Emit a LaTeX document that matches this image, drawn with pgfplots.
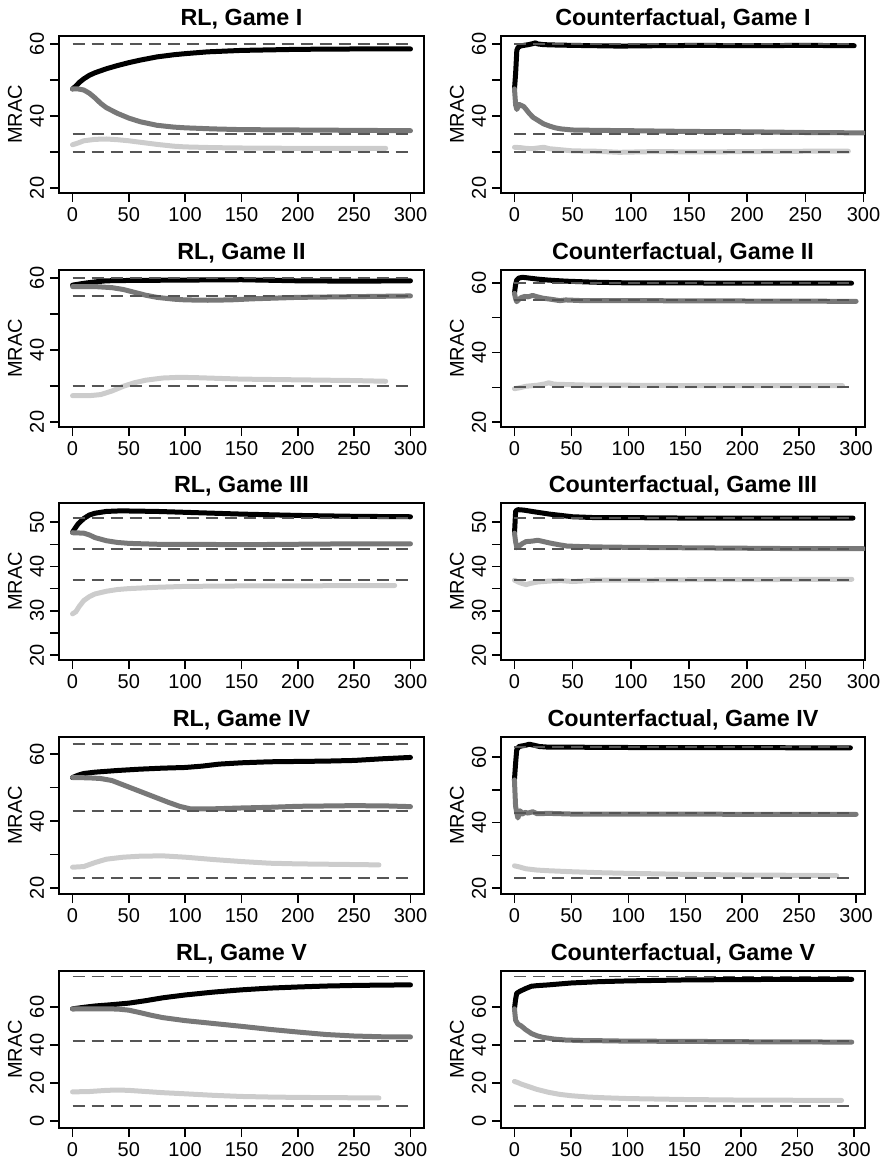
\documentclass[border=0pt]{standalone}
\usepackage{fontspec}
\setmainfont{Liberation Sans}
\usepackage{pgfplots}
\pgfplotsset{compat=1.18}
\definecolor{dgray}{HTML}{787878}
\definecolor{lgray}{HTML}{CCCCCC}
\definecolor{refgray}{HTML}{555555}
\pgfplotsset{
  rbase/.style={
    scale only axis, height=94.2pt,
    axis line style={line width=0.9pt},
    tick align=outside, xtick pos=left, ytick pos=left,
    major tick length=5.4pt,
    tick style={black, line width=0.9pt},
    xtick={0,50,...,300}, xticklabels={0,50,100,150,200,250,300},
    tick label style={font=\fontsize{12}{14}\selectfont},
    yticklabel style={rotate=90, anchor=south},
    ylabel={MRAC},
    every axis y label/.style={at={(axis description cs:0,0.5)}, xshift=-26.4pt,
      rotate=90, anchor=center, font=\fontsize{12}{14}\selectfont},
    every axis title shift=0pt,
    title style={at={(axis description cs:0.5,1)}, anchor=base, yshift=6.6pt,
      font=\bfseries\fontsize{14}{16}\selectfont},
  },
  lcol/.style={rbase, width=219pt, xmin=-12, xmax=312, at={(35.4pt,#1)}, anchor=north west},
  rcol/.style={rbase, width=218.4pt, at={(300.6pt,#1)}, anchor=north west},
  ya/.style={ymin=18.6, ymax=62.2, ytick={20,30,...,60}, yticklabels={20,{},40,{},60}},
  s1/.style={black, line width=3pt, line join=round, line cap=round},
  s2/.style={dgray, line width=3pt, line join=round, line cap=round},
  s3/.style={lgray, line width=3pt, line join=round, line cap=round},
  ref/.style={refgray, line width=1.1pt, dash pattern=on 7.2pt off 4.2pt},
}

\begin{document}
\begin{tikzpicture}
\useasboundingbox (0,0) rectangle (529.2pt,-697.2pt);

% ---- row 1 ----
\begin{axis}[lcol=-21.6pt, ya, title={RL, Game I}]
\addplot[s1] coordinates {(0,47.5)(3,48.3)(6,49.3)(10,50.3)(15,51.3)(20,52.0)(30,53.1)(40,54.0)(50,54.8)(60,55.5)(75,56.4)(90,57.0)(100,57.3)(120,57.8)(150,58.2)(200,58.5)(250,58.6)(300,58.6)};
\addplot[s2] coordinates {(0,47.5)(5,47.5)(10,47.2)(15,46.3)(20,45.0)(25,43.5)(30,42.3)(40,40.7)(50,39.4)(60,38.4)(75,37.4)(90,36.9)(100,36.7)(125,36.4)(150,36.2)(200,36.1)(250,36.0)(300,35.9)};
\addplot[s3] coordinates {(0,32.0)(5,32.5)(10,33.1)(20,33.5)(30,33.6)(40,33.4)(50,33.1)(60,32.7)(75,32.1)(90,31.6)(100,31.4)(125,31.2)(150,31.1)(200,31.0)(250,31.0)(278,31.0)};
\addplot[ref] coordinates {(0,60)(300,60)};
\addplot[ref] coordinates {(0,35)(300,35)};
\addplot[ref] coordinates {(0,30)(300,30)};
\end{axis}

\begin{axis}[rcol=-21.6pt, xmin=-11.6, xmax=301.3, ya, title={Counterfactual, Game I}]
\addplot[s1] coordinates {(0,47.5)(1,52)(2,58.2)(3,59.0)(5,59.4)(8,59.6)(12,59.8)(16,60.1)(18,60.3)(20,60.0)(25,59.8)(35,59.7)(50,59.6)(70,59.5)(90,59.4)(120,59.5)(160,59.6)(200,59.5)(250,59.6)(292,59.5)};
\addplot[s2] coordinates {(0,47.5)(1,43)(2,41.8)(3,42.5)(4,43.2)(6,42.9)(8,42.6)(10,41.8)(13,40.6)(16,39.6)(20,38.8)(25,37.8)(30,37.2)(35,36.7)(40,36.4)(50,36.1)(70,36.0)(100,35.9)(150,35.7)(200,35.6)(250,35.4)(300,35.3)};
\addplot[s3] coordinates {(0,31.3)(5,31.2)(10,31.0)(15,30.9)(20,31.1)(25,31.3)(30,30.9)(40,30.6)(50,30.3)(70,30.2)(90,29.9)(120,30.1)(160,30.0)(200,30.1)(250,30.2)(287,30.2)};
\addplot[ref] coordinates {(0,60)(291,60)};
\addplot[ref] coordinates {(0,35)(291,35)};
\addplot[ref] coordinates {(0,30)(291,30)};
\end{axis}

% ---- row 2 ----
\begin{axis}[lcol=-162pt, ya, title={RL, Game II}]
\addplot[s1] coordinates {(0,58.0)(10,58.5)(20,58.9)(30,59.2)(50,59.3)(100,59.4)(150,59.5)(200,59.2)(250,59.1)(300,59.2)};
\addplot[s2] coordinates {(0,57.6)(20,57.6)(35,57.3)(45,56.8)(55,56.0)(65,55.2)(75,54.6)(90,54.1)(100,53.9)(120,53.8)(140,53.9)(160,54.2)(200,54.6)(250,54.8)(300,55.0)};
\addplot[s3] coordinates {(0,27.3)(15,27.3)(25,27.6)(35,28.6)(45,29.9)(55,30.9)(65,31.6)(80,32.2)(95,32.4)(110,32.3)(130,32.1)(150,31.9)(200,31.7)(250,31.5)(278,31.3)};
\addplot[ref] coordinates {(0,60)(300,60)};
\addplot[ref] coordinates {(0,55)(300,55)};
\addplot[ref] coordinates {(0,30)(300,30)};
\end{axis}

\begin{axis}[rcol=-162pt, xmin=-11.8, xmax=307.8, ymin=18.6, ymax=63.7, ytick={20,30,...,60}, yticklabels={20,{},40,{},60}, title={Counterfactual, Game II}]
\addplot[s1] coordinates {(0,57)(1,59.5)(2,60.8)(4,61.4)(7,61.6)(10,61.5)(15,61.3)(20,61.1)(30,60.8)(45,60.5)(70,60.2)(100,60.0)(150,60.0)(200,59.9)(250,59.9)(296,59.9)};
\addplot[s2] coordinates {(0,57)(1,55.5)(2,54.6)(4,55.3)(6,55.8)(9,56.1)(12,56.0)(16,56.4)(20,56.0)(25,55.6)(32,55.3)(40,54.9)(45,55.1)(60,54.9)(100,54.9)(200,54.8)(300,54.7)};
\addplot[s3] coordinates {(0,29.6)(5,29.9)(10,30.3)(20,30.6)(27,31.0)(30,31.3)(35,30.9)(45,30.8)(70,30.6)(100,30.6)(150,30.5)(200,30.5)(250,30.5)(288,30.5)};
\addplot[ref] coordinates {(0,60)(296,60)};
\addplot[ref] coordinates {(0,55)(296,55)};
\addplot[ref] coordinates {(0,30)(296,30)};
\end{axis}

% ---- row 3 ----
\begin{axis}[lcol=-301.8pt, ymin=18.9, ymax=54.3, ytick={20,25,...,50}, yticklabels={20,{},30,{},40,{},50}, title={RL, Game III}]
\addplot[s1] coordinates {(0,47.7)(2,48.5)(5,49.6)(10,50.8)(15,51.6)(20,52.0)(30,52.4)(40,52.5)(50,52.5)(75,52.4)(100,52.2)(150,51.8)(200,51.5)(250,51.3)(300,51.2)};
\addplot[s2] coordinates {(0,47.6)(10,47.5)(15,47.1)(20,46.5)(30,45.8)(40,45.4)(50,45.2)(75,45.0)(100,45.0)(150,44.9)(200,45.0)(250,45.1)(300,45.1)};
\addplot[s3] coordinates {(0,29.3)(3,29.8)(6,31.0)(10,32.3)(15,33.2)(20,33.8)(30,34.4)(40,34.8)(50,35.0)(75,35.3)(100,35.5)(150,35.6)(200,35.6)(250,35.7)(286,35.7)};
\addplot[ref] coordinates {(0,51)(300,51)};
\addplot[ref] coordinates {(0,44)(300,44)};
\addplot[ref] coordinates {(0,37)(300,37)};
\end{axis}

\begin{axis}[rcol=-301.8pt, xmin=-11.6, xmax=301.3, ymin=18.9, ymax=54.3, ytick={20,25,...,50}, yticklabels={20,{},30,{},40,{},50}, title={Counterfactual, Game III}]
\addplot[s1] coordinates {(0,47.5)(1,52.5)(3,52.8)(8,52.7)(15,52.4)(20,52.2)(30,51.8)(40,51.5)(50,51.2)(70,51.0)(100,51.0)(150,50.9)(200,50.9)(250,50.9)(291,50.9)};
\addplot[s2] coordinates {(0,47.5)(1,45.5)(2,44.2)(4,44.6)(7,45.2)(10,45.6)(15,45.7)(20,45.9)(25,45.6)(30,45.3)(38,44.9)(45,44.6)(55,44.5)(70,44.4)(100,44.3)(150,44.2)(200,44.1)(250,44.0)(300,44.0)};
\addplot[s3] coordinates {(0,36.9)(3,36.5)(6,36.2)(10,35.9)(14,36.2)(20,36.5)(30,36.7)(40,36.8)(50,36.6)(70,36.9)(100,36.9)(150,37.0)(200,37.0)(250,37.1)(290,37.1)};
\addplot[ref] coordinates {(0,51)(291,51)};
\addplot[ref] coordinates {(0,44)(291,44)};
\addplot[ref] coordinates {(0,37)(291,37)};
\end{axis}

% ---- row 4 ----
\begin{axis}[lcol=-442.2pt, ymin=18.2, ymax=65.1, ytick={20,30,...,60}, yticklabels={20,{},40,{},60}, title={RL, Game IV}]
\addplot[s1] coordinates {(0,53.0)(5,53.7)(10,54.2)(20,54.6)(40,55.1)(60,55.5)(80,55.8)(100,56.0)(115,56.4)(130,57.0)(150,57.4)(175,57.7)(200,57.8)(225,57.9)(250,58.1)(275,58.6)(300,59.0)};
\addplot[s2] coordinates {(0,53.0)(15,52.9)(25,52.7)(35,52.1)(45,50.8)(55,49.5)(65,48.2)(75,46.9)(85,45.6)(95,44.4)(105,43.6)(120,43.6)(150,43.9)(175,44.1)(200,44.4)(250,44.6)(280,44.5)(300,44.3)};
\addplot[s3] coordinates {(0,26.2)(10,26.4)(20,27.6)(30,28.6)(45,29.2)(60,29.5)(80,29.6)(100,29.2)(125,28.5)(150,27.9)(175,27.4)(200,27.2)(250,27.0)(272,26.9)};
\addplot[ref] coordinates {(0,63)(300,63)};
\addplot[ref] coordinates {(0,43)(300,43)};
\addplot[ref] coordinates {(0,23)(300,23)};
\end{axis}

\begin{axis}[rcol=-442.2pt, xmin=-11.8, xmax=307.8, ymin=18.2, ymax=66.1, ytick={20,30,...,60}, yticklabels={20,{},40,{},60}, title={Counterfactual, Game IV}]
\addplot[s1] coordinates {(0,53)(1,58)(2,62.2)(4,63.2)(7,63.4)(10,63.6)(13,63.9)(17,63.6)(22,63.2)(30,63.0)(50,63.0)(100,62.9)(150,62.9)(200,62.9)(250,62.8)(295,62.8)};
\addplot[s2] coordinates {(0,53)(1,45)(2,43.0)(3,41.4)(4,42.5)(5,43.6)(7,42.6)(9,43.1)(12,42.9)(16,43.3)(20,42.7)(30,42.8)(50,42.6)(100,42.6)(150,42.6)(200,42.5)(250,42.5)(300,42.5)};
\addplot[s3] coordinates {(0,26.8)(5,26.4)(10,25.9)(20,25.5)(30,25.3)(50,25.0)(75,24.7)(100,24.5)(150,24.2)(200,24.0)(250,23.9)(283,23.8)};
\addplot[ref] coordinates {(0,63)(295,63)};
\addplot[ref] coordinates {(0,43)(295,43)};
\addplot[ref] coordinates {(0,23)(295,23)};
\end{axis}

% ---- row 5 ----
\begin{axis}[lcol=-582.6pt, ymin=-3.7, ymax=78.9, ytick={0,20,40,60}, yticklabels={0,20,40,60}, title={RL, Game V}]
\addplot[s1] coordinates {(0,59.0)(10,59.8)(20,60.5)(35,61.2)(50,62.0)(65,63.3)(80,64.8)(100,66.3)(125,67.8)(150,69.0)(175,69.9)(200,70.5)(225,71.0)(250,71.3)(275,71.5)(300,71.6)};
\addplot[s2] coordinates {(0,59.0)(20,59.0)(40,58.9)(50,58.3)(60,57.0)(70,55.6)(80,54.4)(100,52.8)(125,51.3)(150,49.8)(175,48.2)(200,46.8)(225,45.5)(250,44.7)(275,44.3)(300,44.2)};
\addplot[s3] coordinates {(0,15.3)(15,15.5)(30,16.1)(40,16.3)(50,16.1)(65,15.5)(80,14.9)(100,14.3)(125,13.5)(150,12.9)(175,12.6)(200,12.4)(250,12.2)(272,12.1)};
\addplot[ref] coordinates {(0,76)(300,76)};
\addplot[ref] coordinates {(0,42)(300,42)};
\addplot[ref] coordinates {(0,8)(300,8)};
\end{axis}

\begin{axis}[rcol=-582.6pt, xmin=-11.9, xmax=309.7, ymin=-3.7, ymax=78.9, ytick={0,20,40,60}, yticklabels={0,20,40,60}, title={Counterfactual, Game V}]
\addplot[s1] coordinates {(0,59)(1,64)(2,67.2)(5,68.3)(10,69.7)(15,70.9)(20,71.2)(30,71.6)(50,72.6)(75,73.3)(100,73.7)(150,74.2)(200,74.4)(250,74.5)(298,74.5)};
\addplot[s2] coordinates {(0,59)(1,53)(3,51.0)(6,50.0)(10,48.0)(15,46.0)(20,44.8)(25,44.0)(35,43.1)(45,42.6)(60,42.3)(80,42.2)(100,42.0)(150,41.9)(200,41.7)(250,41.6)(298,41.5)};
\addplot[s3] coordinates {(0,20.8)(3,20.2)(6,19.4)(10,18.6)(15,17.6)(20,16.6)(30,15.1)(40,14.0)(50,13.3)(65,12.6)(80,12.2)(100,11.8)(150,11.3)(200,11.0)(250,10.9)(289,10.8)};
\addplot[ref] coordinates {(0,76)(298,76)};
\addplot[ref] coordinates {(0,42)(298,42)};
\addplot[ref] coordinates {(0,8)(298,8)};
\end{axis}
\end{tikzpicture}
\end{document}
